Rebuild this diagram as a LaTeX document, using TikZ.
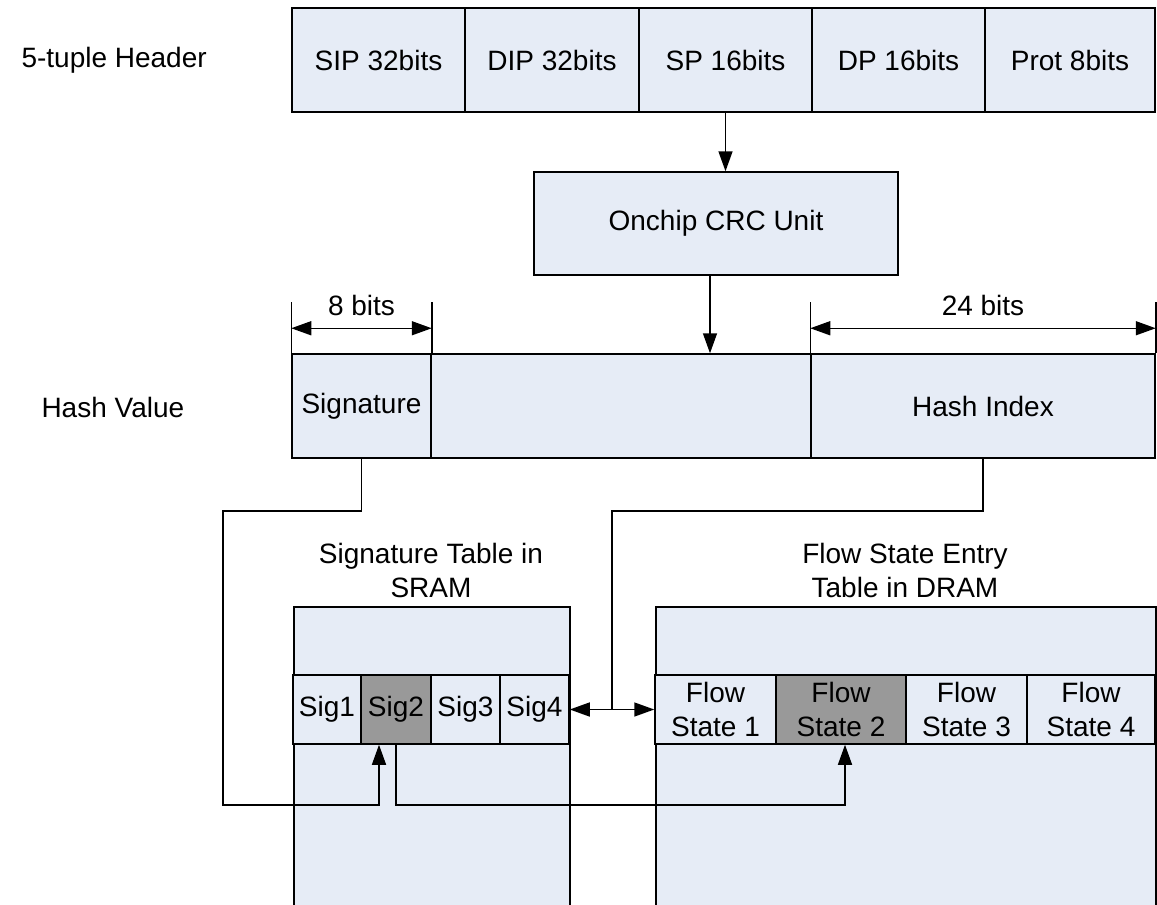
\documentclass[tikz,border=0pt]{standalone}
\usepackage{fontspec}
\setmainfont{Liberation Sans}
\usetikzlibrary{arrows.meta}
\definecolor{cellfill}{RGB}{230,236,246}
\definecolor{hitfill}{RGB}{153,153,153}
\begin{document}
\begin{tikzpicture}[x=1pt,y=-1pt,
  every node/.style={font=\fontsize{28}{34}\selectfont},
  cell/.style={draw=black,fill=cellfill,line width=1.5pt,inner sep=0pt,align=center},
  hit/.style={cell,fill=hitfill},
  wire/.style={line width=1.5pt},
  arr/.style={wire,-{Triangle[length=20pt,width=14pt]}},
  dblarr/.style={wire,{Triangle[length=20pt,width=14pt]}-{Triangle[length=20pt,width=14pt]}}]
\useasboundingbox (0,0) rectangle (1157,905);
\clip (0,0) rectangle (1157,905);

% row labels
\node[anchor=west] (lblhdr) at (18,60) {5-tuple Header};
\node[anchor=west] (lblhash) at (38,407) {Hash Value};

% 5-tuple header fields
\node[cell,minimum width=173pt,minimum height=104pt] (sip) at (378.5,60) {SIP 32bits};
\node[cell,minimum width=174pt,minimum height=104pt] (dip) at (552,60) {DIP 32bits};
\node[cell,minimum width=173pt,minimum height=104pt] (sp) at (725.5,60) {SP 16bits};
\node[cell,minimum width=173pt,minimum height=104pt] (dp) at (898.5,60) {DP 16bits};
\node[cell,minimum width=170pt,minimum height=104pt] (prot) at (1070,60) {Prot 8bits};

% CRC unit
\node[cell,minimum width=364pt,minimum height=103pt] (crc) at (716,223.5) {Onchip CRC Unit};

% hash value fields
\node[cell,minimum width=139pt,minimum height=104pt] (hsig) at (361.5,406) {Signature};
\node[cell,minimum width=380pt,minimum height=104pt] (hmid) at (621,406) {};
\node[cell,minimum width=344pt,minimum height=104pt] (hidx) at (983,406) {Hash Index};

% field width dimensions
\foreach \n/\a in {hsig/north west,hsig/north east,hidx/north west,hidx/north east}
  \draw[wire] (\n.\a) -- ++(0,-51);
\draw[dblarr] ([yshift=25pt]hsig.north west) -- ([yshift=25pt]hsig.north east)
  node[midway,above=8pt] (lbl8) {8 bits};
\draw[dblarr] ([yshift=25pt]hidx.north west) -- ([yshift=25pt]hidx.north east)
  node[midway,above=8pt] (lbl24) {24 bits};

% tables
\node[align=center] (sigtitle) at (431,570) {Signature Table in\\SRAM};
\node[align=center] (flowtitle) at (905,570) {Flow State Entry\\Table in DRAM};
\node[cell,minimum width=276pt,minimum height=330pt,anchor=north west] (sigtab) at (293,606) {};
\node[cell,minimum width=500pt,minimum height=330pt,anchor=north west] (flowtab) at (655,606) {};

\node[cell,minimum width=68pt,minimum height=69pt] (sig1) at (327,709.5) {Sig1};
\node[hit,minimum width=70pt,minimum height=69pt] (sig2) at (396,709.5) {Sig2};
\node[cell,minimum width=69pt,minimum height=69pt] (sig3) at (465.5,709.5) {Sig3};
\node[cell,minimum width=69pt,minimum height=69pt] (sig4) at (534.5,709.5) {Sig4};

\node[cell,minimum width=121pt,minimum height=69pt] (fs1) at (715.5,709.5) {Flow\\State 1};
\node[hit,minimum width=130pt,minimum height=69pt] (fs2) at (841,709.5) {Flow\\State 2};
\node[cell,minimum width=121pt,minimum height=69pt] (fs3) at (966.5,709.5) {Flow\\State 3};
\node[cell,minimum width=128pt,minimum height=69pt] (fs4) at (1091,709.5) {Flow\\State 4};

% data path
\draw[arr] (sp.south) -- (sp.south |- crc.north);
\draw[arr] ([xshift=-6pt]crc.south) -- ([xshift=-6pt]crc.south |- hmid.north);

\coordinate (sigturn) at (223,511);
\coordinate (sigbot) at (223,805);
\draw[arr] (hsig.south) |- (sigturn) -- (sigbot) -| ([xshift=-17pt]sig2.south);

\coordinate (hitbot) at (600,805);
\draw[arr] (sig2.south) |- (hitbot) -| ([xshift=4pt]fs2.south);

\coordinate (idxturn) at (612,511);
\coordinate (idxjoin) at (612,709.5);
\draw[wire] (hidx.south) |- (idxturn) -- (idxjoin);
\draw[dblarr] (sig4.east) -- (fs1.west);
\end{tikzpicture}
\end{document}
